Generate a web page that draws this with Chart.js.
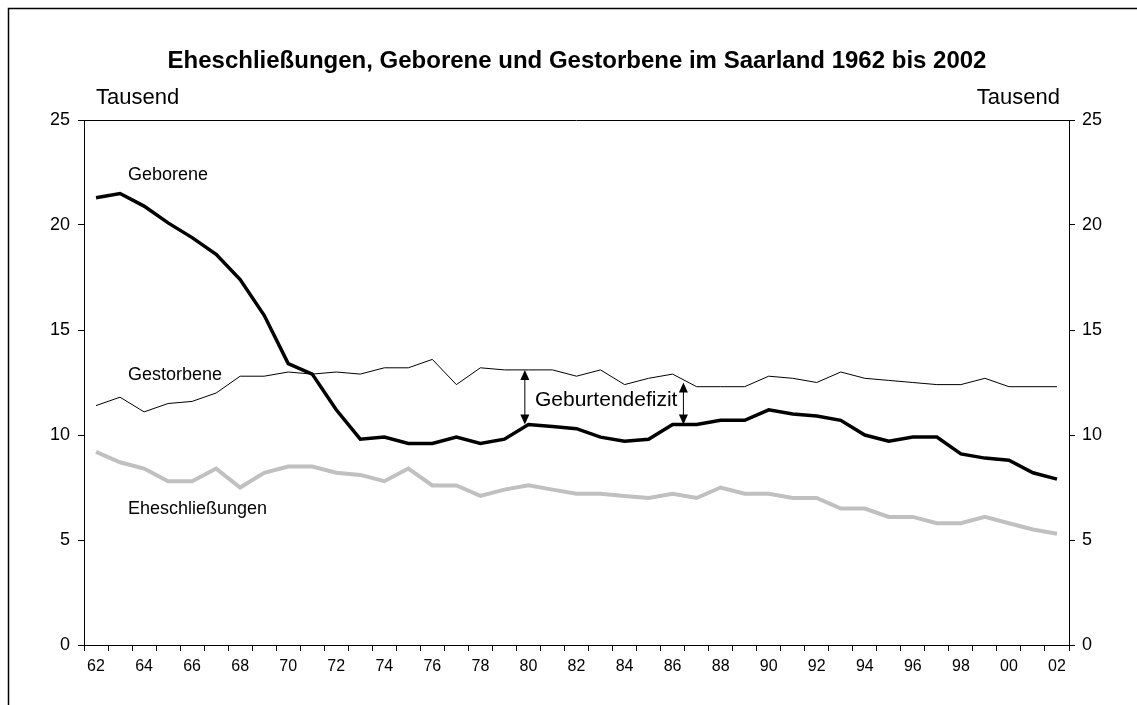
<!DOCTYPE html>
<html>
<head>
<meta charset="utf-8">
<script src="https://cdn.jsdelivr.net/npm/chart.js@4"></script>
<style>
html,body{margin:0;padding:0;background:#fff;}
#wrap{position:relative;width:1137px;height:705px;}
</style>
</head>
<body>
<div id="wrap"><canvas id="c" width="1137" height="705"></canvas></div>
<script>
const years = ["62","63","64","65","66","67","68","69","70","71","72","73","74","75","76","77","78","79","80","81","82","83","84","85","86","87","88","89","90","91","92","93","94","95","96","97","98","99","00","01","02"];
const geborene = [21.3,21.5,20.9,20.1,19.4,18.6,17.4,15.7,13.4,12.9,11.2,9.8,9.9,9.6,9.6,9.9,9.6,9.8,10.5,10.4,10.3,9.9,9.7,9.8,10.5,10.5,10.7,10.7,11.2,11.0,10.9,10.7,10.0,9.7,9.9,9.9,9.1,8.9,8.8,8.2,7.9];
const gestorbene = [11.4,11.8,11.1,11.5,11.6,12.0,12.8,12.8,13.0,12.9,13.0,12.9,13.2,13.2,13.6,12.4,13.2,13.1,13.1,13.1,12.8,13.1,12.4,12.7,12.9,12.3,12.3,12.3,12.8,12.7,12.5,13.0,12.7,12.6,12.5,12.4,12.4,12.7,12.3,12.3,12.3];
const ehe = [9.2,8.7,8.4,7.8,7.8,8.4,7.5,8.2,8.5,8.5,8.2,8.1,7.8,8.4,7.6,7.6,7.1,7.4,7.6,7.4,7.2,7.2,7.1,7.0,7.2,7.0,7.5,7.2,7.2,7.0,7.0,6.5,6.5,6.1,6.1,5.8,5.8,6.1,5.8,5.5,5.3];
const yTicks = [0,5,10,15,20,25];
const titleText = "Eheschließungen, Geborene und Gestorbene im Saarland 1962 bis 2002";
const unitText = "Tausend";
const seriesLabels = ["Geborene","Gestorbene","Eheschließungen"];
const deficitText = "Geburtendefizit";

const FONT = "'Liberation Sans', Arial, sans-serif";

function arrow(ctx, x, y1, y2) {
  const hl = 10, hw = 4.5;
  ctx.save();
  ctx.strokeStyle = '#000'; ctx.fillStyle = '#000'; ctx.lineWidth = 1;
  ctx.beginPath(); ctx.moveTo(x, y1 + hl - 1); ctx.lineTo(x, y2 - hl + 1); ctx.stroke();
  ctx.beginPath(); ctx.moveTo(x, y1); ctx.lineTo(x - hw, y1 + hl); ctx.lineTo(x + hw, y1 + hl); ctx.closePath(); ctx.fill();
  ctx.beginPath(); ctx.moveTo(x, y2); ctx.lineTo(x - hw, y2 - hl); ctx.lineTo(x + hw, y2 - hl); ctx.closePath(); ctx.fill();
  ctx.restore();
}

const decor = {
  id: 'decor',
  afterDraw(chart) {
    const ctx = chart.ctx;
    const a = chart.chartArea;
    const xs = chart.scales.x, ys = chart.scales.y;
    ctx.save();
    // outer frame
    ctx.strokeStyle = '#000'; ctx.lineWidth = 1.5;
    ctx.beginPath(); ctx.moveTo(8.5, 705); ctx.lineTo(8.5, 8.5); ctx.lineTo(1137, 8.5); ctx.stroke();
    // top frame line of plot area
    ctx.lineWidth = 1;
    ctx.beginPath(); ctx.moveTo(a.left, Math.round(a.top) + 0.5); ctx.lineTo(a.right, Math.round(a.top) + 0.5); ctx.stroke();
    // title
    ctx.fillStyle = '#000';
    ctx.textBaseline = 'alphabetic';
    ctx.font = "bold 24px " + FONT;
    ctx.textAlign = 'center';
    ctx.fillText(titleText, 577, 68);
    ctx.font = "22px " + FONT;
    ctx.textAlign = 'left';
    ctx.fillText(unitText, 96, 104);
    ctx.textAlign = 'right';
    ctx.fillText(unitText, 1060, 104);
    // series labels
    ctx.font = "18px " + FONT;
    ctx.textAlign = 'left';
    ctx.fillText(seriesLabels[0], 128, 180);
    ctx.fillText(seriesLabels[1], 128, 380);
    ctx.fillText(seriesLabels[2], 128, 514);
    ctx.font = "21px " + FONT;
    ctx.fillText(deficitText, 535, 406);
    // arrows
    const x1 = xs.getPixelForValue(17.85);
    arrow(ctx, x1, ys.getPixelForValue(gestorbene[18]), ys.getPixelForValue(geborene[18]));
    const x2 = xs.getPixelForValue(24.45);
    arrow(ctx, x2, ys.getPixelForValue(12.5), ys.getPixelForValue(10.5));
    ctx.restore();
  }
};

new Chart(document.getElementById('c'), {
  type: 'line',
  data: {
    labels: years,
    datasets: [
      { label: seriesLabels[0], data: geborene, borderColor: '#000', borderWidth: 3.5, yAxisID: 'y' },
      { label: seriesLabels[1], data: gestorbene, borderColor: '#000', borderWidth: 1, yAxisID: 'y' },
      { label: seriesLabels[2], data: ehe, borderColor: '#c0c0c0', borderWidth: 4, yAxisID: 'y' }
    ]
  },
  options: {
    responsive: false,
    animation: false,
    devicePixelRatio: 1,
    layout: { padding: { top: 120, left: 0, right: 0, bottom: 0 } },
    elements: { point: { radius: 0 }, line: { tension: 0, borderJoinStyle: 'miter', borderCapStyle: 'butt' } },
    plugins: { legend: { display: false }, title: { display: false }, tooltip: { enabled: false } },
    scales: {
      x: {
        offset: true,
        grid: { offset: true, drawOnChartArea: false, drawTicks: true, tickLength: 6, color: '#000' },
        border: { display: true, color: '#000', width: 1 },
        ticks: {
          autoSkip: false, maxRotation: 0, minRotation: 0, color: '#000', padding: 6,
          font: { family: FONT, size: 16 },
          callback: function(v, i) { return i % 2 === 0 ? years[i] : ''; }
        },
        afterFit(s) { s.height = 60; }
      },
      y: {
        position: 'left', min: 0, max: 25,
        afterBuildTicks(s) { s.ticks = yTicks.map(v => ({ value: v })); },
        grid: { drawOnChartArea: false, tickLength: 6, color: '#000' },
        border: { display: true, color: '#000', width: 1 },
        ticks: { color: '#000', padding: 8, font: { family: FONT, size: 18 } },
        afterFit(s) { s.width = 84; }
      },
      y2: {
        position: 'right', min: 0, max: 25,
        afterBuildTicks(s) { s.ticks = yTicks.map(v => ({ value: v })); },
        grid: { drawOnChartArea: false, tickLength: 6, color: '#000' },
        border: { display: true, color: '#000', width: 1 },
        ticks: { color: '#000', padding: 7, font: { family: FONT, size: 18 } },
        afterFit(s) { s.width = 68; }
      }
    }
  },
  plugins: [decor]
});
</script>
</body>
</html>
